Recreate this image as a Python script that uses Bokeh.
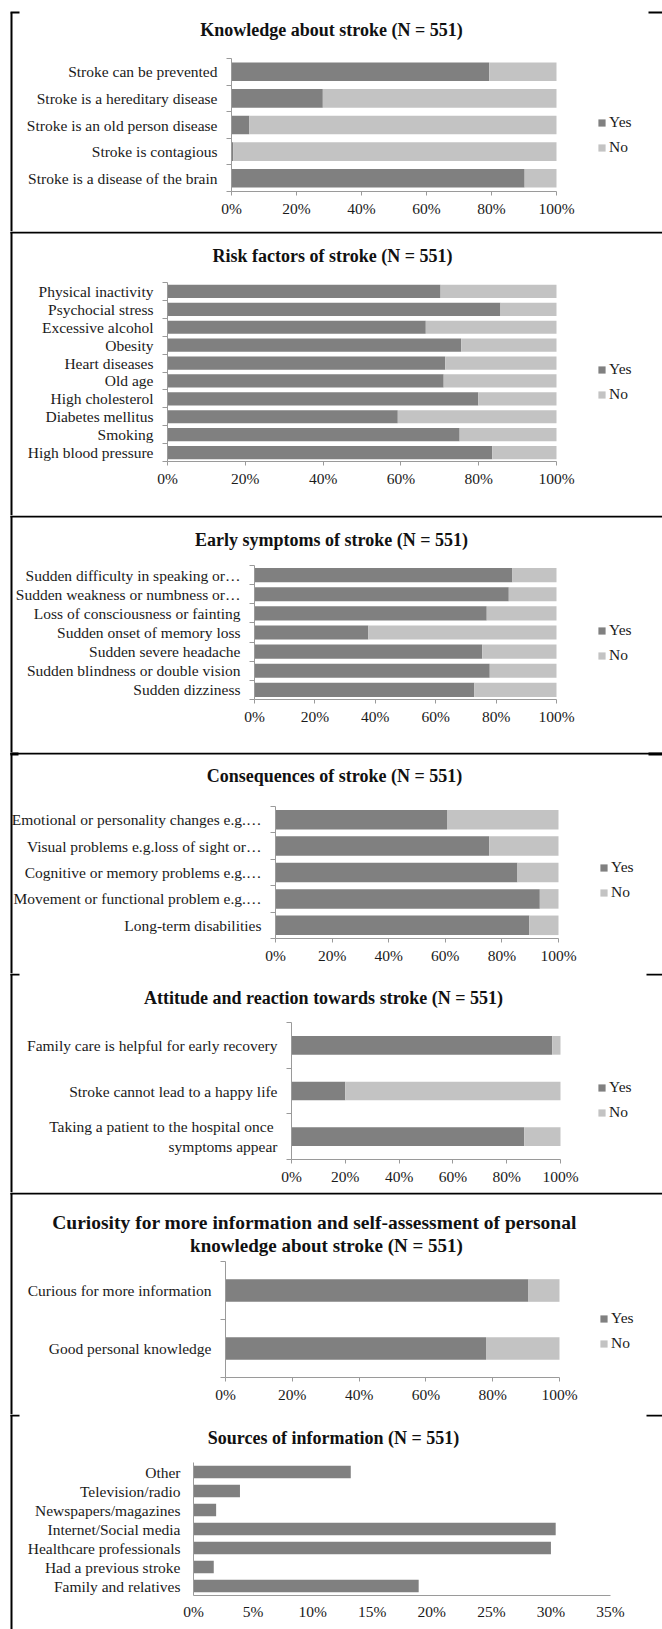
from bokeh.plotting import figure
from bokeh.models import (Range1d, FixedTicker, PrintfTickFormatter, LinearAxis,
                          Legend, LegendItem, Label, BoxAnnotation, ColumnDataSource)
from bokeh.embed import file_html
from bokeh.resources import INLINE

# ---------------- data ----------------
knowledge_items = ["Stroke can be prevented", "Stroke is a hereditary disease",
                   "Stroke is an old person disease", "Stroke is contagious",
                   "Stroke is a disease of the brain"]
knowledge_yes = [79.3, 28.1, 5.5, 0.5, 90.2]
knowledge_no = [20.7, 71.9, 94.5, 99.5, 9.8]

risk_items = ["Physical inactivity", "Psychocial stress", "Excessive alcohol", "Obesity",
              "Heart diseases", "Old age", "High cholesterol", "Diabetes mellitus",
              "Smoking", "High blood pressure"]
risk_yes = [70.2, 85.6, 66.4, 75.5, 71.4, 71.0, 79.9, 59.2, 75.1, 83.5]
risk_no = [29.8, 14.4, 33.6, 24.5, 28.6, 29.0, 20.1, 40.8, 24.9, 16.5]

symptom_items = ["Sudden difficulty in speaking or\u2026", "Sudden weakness or numbness or\u2026",
                 "Loss of consciousness or fainting", "Sudden onset of memory loss",
                 "Sudden severe headache", "Sudden blindness or double vision",
                 "Sudden dizziness"]
symptom_yes = [85.4, 84.2, 76.9, 37.7, 75.4, 77.9, 72.8]
symptom_no = [14.6, 15.8, 23.1, 62.3, 24.6, 22.1, 27.2]

consequence_items = ["Emotional or personality changes e.g.\u2026",
                     "Visual problems e.g.loss of sight or\u2026",
                     "Cognitive or memory problems e.g.\u2026",
                     "Movement or functional problem e.g.\u2026",
                     "Long-term disabilities"]
consequence_yes = [60.6, 75.5, 85.5, 93.4, 89.7]
consequence_no = [39.4, 24.5, 14.5, 6.6, 10.3]

attitude_items = ["Family care is helpful for early recovery",
                  "Stroke cannot lead to a happy life",
                  "Taking a patient  to the hospital once\nsymptoms appear"]
attitude_yes = [96.9, 20.0, 86.5]
attitude_no = [3.1, 80.0, 13.5]

curiosity_items = ["Curious for more information", "Good personal knowledge"]
curiosity_yes = [90.7, 78.0]
curiosity_no = [9.3, 22.0]

source_items = ["Other", "Television/radio", "Newspapers/magazines", "Internet/Social media",
                "Healthcare professionals", "Had a previous stroke", "Family and relatives"]
source_pct = [13.2, 3.9, 1.9, 30.4, 30.0, 1.7, 18.9]

pct_ticks_100 = [0, 20, 40, 60, 80, 100]
pct_ticks_35 = [0, 5, 10, 15, 20, 25, 30, 35]
series_names = ["Yes", "No"]

# ---------------- style ----------------
FONT = "Liberation Serif"
YES_C = "#808080"
NO_C = "#c3c3c3"
AXIS_C = "#9a9a9a"
TXT_C = "#1a1a1a"
FS = "15.5px"
W = 662

panels = [
    dict(title=[("Knowledge about stroke (N = 551)", 331, 29, 18)], items=knowledge_items,
         yes=knowledge_yes, no=knowledge_no, top=0, bottom=231, x0=231, x1=556,
         at=58, ab=191, leg=(597, 122), bh=0.70, sep="ticks"),
    dict(title=[("Risk factors of stroke (N = 551)", 332, 255, 18)], items=risk_items,
         yes=risk_yes, no=risk_no, top=231, bottom=515, x0=167, x1=556,
         at=282, ab=461, leg=(597, 369), bh=0.74, sep="full"),
    dict(title=[("Early symptoms of stroke (N = 551)", 331, 539, 18)], items=symptom_items,
         yes=symptom_yes, no=symptom_no, top=515, bottom=752, x0=254, x1=556,
         at=565, ab=699, leg=(597, 630), bh=0.74, sep="full"),
    dict(title=[("Consequences of stroke (N = 551)", 334, 775, 18)], items=consequence_items,
         yes=consequence_yes, no=consequence_no, top=752, bottom=973, x0=275, x1=558,
         at=806, ab=938, leg=(599, 867), bh=0.74, sep="fullticks"),
    dict(title=[("Attitude and reaction towards stroke (N = 551)", 323, 997, 18)],
         items=attitude_items, yes=attitude_yes, no=attitude_no, top=973, bottom=1192,
         x0=291, x1=560, at=1022, ab=1159, leg=(597, 1087), bh=0.41, sep="ticks"),
    dict(title=[("Curiosity for more information and self-assessment of personal",
                 314, 1222, 19.5),
                ("knowledge about stroke (N = 551)", 326, 1245, 19)],
         items=curiosity_items, yes=curiosity_yes, no=curiosity_no, top=1192, bottom=1414,
         x0=225, x1=559, at=1261, ab=1377, leg=(599, 1318), bh=0.39, sep="full"),
    dict(title=[("Sources of information (N = 551)", 333, 1437, 18)], items=source_items,
         pct=source_pct, top=1414, bottom=1629, x0=193, x1=610, at=1462, ab=1595,
         leg=None, bh=0.66, sep="ticks"),
]

figs = []
for i, cfg in enumerate(panels):
    items = cfg["items"]
    n = len(items)
    xmax = 35 if "pct" in cfg else 100
    top, bottom, x0, x1, at, ab = (cfg[k] for k in ("top", "bottom", "x0", "x1", "at", "ab"))
    h = bottom - top

    # page pixel -> data coordinates of this panel (frame covers the whole canvas)
    def xd(px, x0=x0, x1=x1, xmax=xmax):
        return (px - x0) / (x1 - x0) * xmax

    def yd(py, at=at, ab=ab, n=n):
        return -0.5 + (ab - py) / (ab - at) * n

    p = figure(width=W, height=h, x_range=Range1d(xd(0), xd(W)),
               y_range=Range1d(yd(bottom), yd(top)), x_axis_type=None, y_axis_type=None,
               output_backend="svg", toolbar_location=None,
               min_border_left=0, min_border_right=0, min_border_top=0, min_border_bottom=0)
    p.title.visible = False
    p.outline_line_color = None
    p.background_fill_color = "white"
    p.border_fill_color = "white"

    pos = [n - 1 - k for k in range(n)]
    if "pct" in cfg:
        src = ColumnDataSource(dict(pos=pos, pct=cfg["pct"]))
        p.hbar(y="pos", left=0, right="pct", height=cfg["bh"], source=src,
               fill_color=YES_C, line_color=None)
    else:
        src = ColumnDataSource(dict(pos=pos, yes=cfg["yes"], no=cfg["no"]))
        rs = p.hbar_stack(["yes", "no"], y="pos", height=cfg["bh"], source=src,
                          fill_color=[YES_C, NO_C], line_color=None)
        lx, ly = cfg["leg"]
        label_h, spacing = 18, 7
        leg_h = 2 * label_h + spacing
        legend = Legend(items=[LegendItem(label=series_names[0], renderers=[rs[0]]),
                               LegendItem(label=series_names[1], renderers=[rs[1]])],
                        location=(lx, bottom - (ly - label_h / 2 + leg_h)),
                        glyph_width=9, glyph_height=9, label_standoff=3, spacing=spacing,
                        label_height=label_h, label_width=10, padding=0, margin=0,
                        border_line_color=None, background_fill_alpha=0,
                        label_text_font=FONT, label_text_font_size=FS,
                        label_text_color=TXT_C)
        p.add_layout(legend)

    # axes, fixed at the data origin so that they take no border space
    xticks = pct_ticks_35 if "pct" in cfg else pct_ticks_100
    xaxis = LinearAxis(ticker=FixedTicker(ticks=xticks),
                       formatter=PrintfTickFormatter(format="%d%%"),
                       fixed_location=-0.5, bounds=(0, xmax))
    xaxis.axis_line_color = AXIS_C
    xaxis.major_tick_line_color = AXIS_C
    xaxis.major_tick_out = 0 if "pct" in cfg else 4
    xaxis.major_tick_in = 0
    xaxis.minor_tick_line_color = None
    xaxis.major_label_standoff = 7 if "pct" in cfg else 4
    xaxis.major_label_text_font = FONT
    xaxis.major_label_text_font_size = FS
    xaxis.major_label_text_color = TXT_C
    p.add_layout(xaxis, "below")

    yaxis = LinearAxis(ticker=FixedTicker(ticks=pos,
                                          minor_ticks=[k - 0.5 for k in range(n + 1)]),
                       fixed_location=0, bounds=(-0.5, n - 0.5))
    yaxis.major_label_overrides = {pos[k]: items[k] for k in range(n)}
    yaxis.axis_line_color = AXIS_C
    yaxis.major_tick_line_color = None
    yaxis.major_tick_out = 0
    yaxis.major_tick_in = 0
    if "pct" in cfg:
        yaxis.minor_tick_line_color = None
    else:
        yaxis.minor_tick_line_color = AXIS_C
        yaxis.minor_tick_out = 5
        yaxis.minor_tick_in = 0
    yaxis.major_label_standoff = 9
    yaxis.major_label_text_font = FONT
    yaxis.major_label_text_font_size = FS
    yaxis.major_label_text_color = TXT_C
    p.add_layout(yaxis, "left")

    # titles
    for text, cx, cy, fsz in cfg["title"]:
        p.add_layout(Label(x=xd(cx), y=yd(cy), text=text, text_font=FONT,
                           text_font_size=f"{fsz}px", text_font_style="bold",
                           text_color="#111111", text_align="center",
                           text_baseline="middle"))

    # frame decoration of the original composite figure
    def box(l, r, t, b):
        p.add_layout(BoxAnnotation(left=xd(l), right=xd(r), top=yd(t), bottom=yd(b),
                                   fill_color="black", fill_alpha=1.0, line_color=None,
                                   level="overlay"))

    ltop = 12 if i == 0 else top
    box(10, 12, ltop, bottom)
    if i == 0:
        box(10, 19, 11, 13)
        box(648, W, 11, 13)
    elif cfg["sep"] == "full":
        box(10, W, top, top + 2)
    elif cfg["sep"] == "fullticks":
        box(10, W, top, top + 2)
        box(10, 18, top - 1, top + 3)
        box(648, W, top - 1, top + 3)
    else:
        box(10, 19, top, top + 2)
        box(646, W, top, top + 2)

    figs.append(p)

open("out.html", "w").write(file_html(figs, INLINE))
